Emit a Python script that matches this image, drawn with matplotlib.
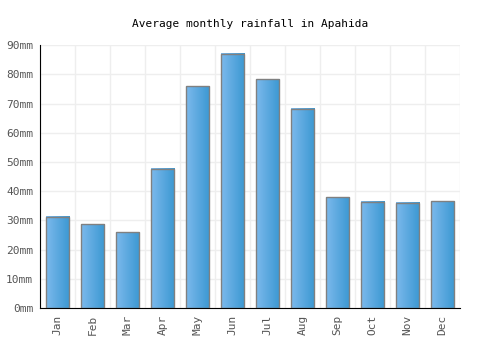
import matplotlib
matplotlib.use('Agg')
import matplotlib.pyplot as plt
import numpy as np
from matplotlib.colors import LinearSegmentedColormap

months = ['Jan', 'Feb', 'Mar', 'Apr', 'May', 'Jun', 'Jul', 'Aug', 'Sep', 'Oct', 'Nov', 'Dec']
rainfall = [31.2, 28.6, 26.0, 47.6, 76.0, 87.0, 78.4, 68.2, 38.0, 36.3, 36.0, 36.6]
yticks = [0, 10, 20, 30, 40, 50, 60, 70, 80, 90]

plt.rcParams['font.family'] = 'DejaVu Sans Mono'

fig = plt.figure(figsize=(5, 3.5), dpi=100)
ax = fig.add_axes([0.08, 0.12, 0.84, 0.751])

cmap = LinearSegmentedColormap.from_list('bar', ['#7cb9ec', '#3b98d2'])
grad = np.linspace(0, 1, 64).reshape(1, -1)
width = 0.68

for i, v in enumerate(rainfall):
    x0 = i - width / 2
    ax.imshow(grad, cmap=cmap, extent=[x0, x0 + width, 0, v], aspect='auto',
              origin='lower', zorder=2, interpolation='bilinear')
    ax.add_patch(plt.Rectangle((x0, 0), width, v, fill=False,
                               edgecolor='#808080', linewidth=1, zorder=3))

ax.set_xlim(-0.5, len(months) - 0.5)
ax.set_ylim(0, 90)
ax.set_xticks(range(len(months)))
ax.set_xticklabels(months, rotation=90, fontsize=8, color='#555555')
ax.set_yticks(yticks)
ax.set_yticklabels([f'{t}mm' for t in yticks], fontsize=8, color='#555555')
ax.tick_params(length=0, pad=5)

# grid lines between the bars and at each y tick
ax.set_xticks(np.arange(-0.5, len(months), 1), minor=True)
ax.tick_params(which='minor', length=0)
ax.grid(True, which='minor', axis='x', color='#eeeeee', linewidth=1, zorder=0)
ax.grid(True, which='major', axis='y', color='#eeeeee', linewidth=1, zorder=0)
ax.set_axisbelow(True)

for s in ['top', 'right']:
    ax.spines[s].set_visible(False)
ax.spines['left'].set_color('black')
ax.spines['bottom'].set_color('black')

fig.suptitle('Average monthly rainfall in Apahida', fontsize=8, y=0.945)

fig.savefig('out.png', dpi=100)
